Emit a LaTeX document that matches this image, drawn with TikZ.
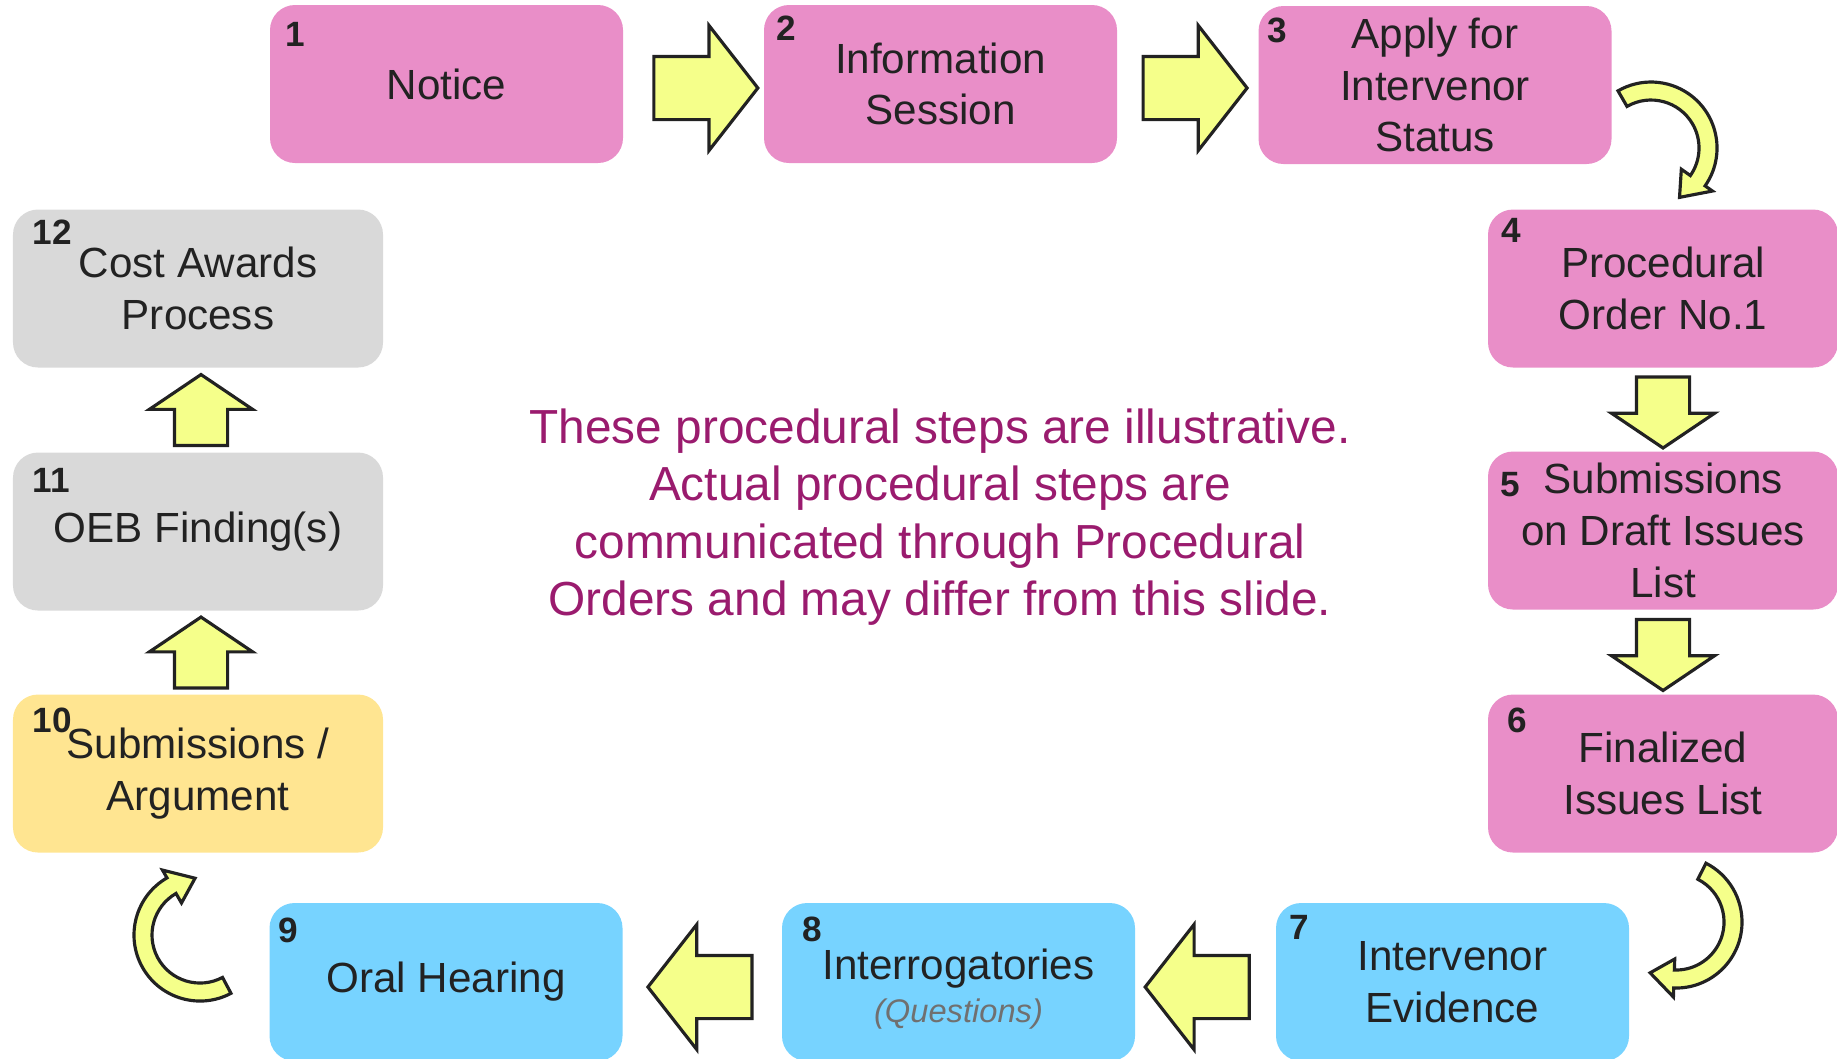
\documentclass[tikz,border=0pt]{standalone}
\usepackage{fontspec}
\setmainfont{Liberation Sans}
\usetikzlibrary{shapes.arrows,calc}

\definecolor{pinkbox}{HTML}{E98EC8}
\definecolor{greybox}{HTML}{D9D9D9}
\definecolor{yellowbox}{HTML}{FFE591}
\definecolor{bluebox}{HTML}{77D3FF}
\definecolor{arrowfill}{HTML}{F5FF8A}
\definecolor{notepurple}{HTML}{9A1B6E}
\definecolor{inkdark}{HTML}{222222}
\definecolor{qgrey}{HTML}{707070}

\tikzset{
  stepbox/.style={rectangle, rounded corners=0.25cm, minimum width=3.53cm, minimum height=1.58cm, inner sep=0pt, align=center, text=inkdark, font=\fontsize{12}{14.7}\selectfont},
  sidebox/.style={stepbox, minimum width=3.70cm},
  num/.style={anchor=north west, inner sep=0pt, text=inkdark, font=\fontsize{10}{12}\selectfont\bfseries},
  harrow/.style={single arrow, draw=inkdark, fill=arrowfill, line width=0.9pt, inner xsep=0pt, inner ysep=0.3cm, single arrow head extend=0.31cm, single arrow tip angle=104, minimum height=1.04cm},
  varrow/.style={single arrow, draw=inkdark, fill=arrowfill, line width=0.9pt, inner xsep=0pt, inner ysep=0.25cm, single arrow head extend=0.25cm, single arrow tip angle=112, minimum height=0.71cm},
  bentarrow/.style={draw=inkdark, fill=arrowfill, line width=0.9pt}
}

% curved block arrow: centre, start angle, end angle (clockwise)
\newcommand{\turnarrow}[3]{%
  \draw[bentarrow, shift={(#1)}] (#2:0.48) arc[start angle=#2, end angle=#3, radius=0.48]
    -- (#3:0.37) -- ({#3-25}:0.57) -- (#3:0.75) -- (#3:0.66)
    arc[start angle=#3, end angle=#2, radius=0.66] -- cycle;}

\begin{document}
\begin{tikzpicture}
\useasboundingbox (0,0) rectangle (18.37,-10.58);

% top row
\node[stepbox, fill=pinkbox] (notice) at (4.465,-0.84) {Notice};
\node[stepbox, fill=pinkbox] (info) at (9.405,-0.84) {Information\\Session};
\node[stepbox, fill=pinkbox] (apply) at (14.35,-0.85) {Apply for\\Intervenor\\Status};

% right column
\node[stepbox, fill=pinkbox, minimum width=3.5cm] (order) at (16.63,-2.885) {Procedural\\Order No.1};
\node[stepbox, fill=pinkbox, minimum width=3.5cm] (draft) at (16.63,-5.305) {Submissions\\on Draft Issues\\List};
\node[stepbox, fill=pinkbox, minimum width=3.5cm] (final) at (16.63,-7.735) {Finalized\\Issues List};

% bottom row
\node[stepbox, fill=bluebox] (evid) at (14.525,-9.82) {Intervenor\\Evidence};
\node[stepbox, fill=bluebox, font=\fontsize{12}{12.2}\selectfont] (interr) at (9.585,-9.82) {\rule{0pt}{12.5pt}Interrogatories\\{\fontsize{9.3}{12.2}\selectfont\itshape\color{qgrey}(Questions)}};
\node[stepbox, fill=bluebox] (hearing) at (4.46,-9.82) {Oral Hearing};

% left column
\node[sidebox, fill=yellowbox] (argue) at (1.98,-7.735) {Submissions /\\Argument};
\node[sidebox, fill=greybox] (finding) at (1.98,-5.315) {OEB Finding(s)};
\node[sidebox, fill=greybox] (costs) at (1.98,-2.885) {Cost Awards\\Process};

% step numbers
\node[num] (n1) at ($(notice.north west)+(0.15,-0.17)$) {1};
\node[num] (n2) at ($(info.north west)+(0.12,-0.11)$) {2};
\node[num] (n3) at ($(apply.north west)+(0.09,-0.12)$) {3};
\node[num] (n4) at ($(order.north west)+(0.13,-0.09)$) {4};
\node[num] (n5) at ($(draft.north west)+(0.12,-0.21)$) {5};
\node[num] (n6) at ($(final.north west)+(0.19,-0.13)$) {6};
\node[num] (n7) at ($(evid.north west)+(0.13,-0.12)$) {7};
\node[num] (n8) at ($(interr.north west)+(0.20,-0.14)$) {8};
\node[num] (n9) at ($(hearing.north west)+(0.09,-0.15)$) {9};
\node[num] (n10) at ($(argue.north west)+(0.20,-0.13)$) {10};
\node[num] (n11) at ($(finding.north west)+(0.20,-0.16)$) {11};
\node[num] (n12) at ($(costs.north west)+(0.20,-0.10)$) {12};

% straight block arrows
\node[harrow] (a12) at ($(notice.east)!0.5!(info.west)+(0,-0.04)$) {};
\node[harrow] (a23) at ($(info.east)!0.5!(apply.west)+(-0.05,-0.035)$) {};
\node[varrow, rotate=270] (a45) at ($(order.south)!0.5!(draft.north)+(0,0.06)$) {};
\node[varrow, rotate=270] (a56) at ($(draft.south)!0.5!(final.north)+(0,0.06)$) {};
\node[harrow, rotate=180] (a78) at ($(interr.east)!0.5!(evid.west)+(0.04,-0.05)$) {};
\node[harrow, rotate=180] (a89) at ($(hearing.east)!0.5!(interr.west)+(0.1,-0.05)$) {};
\node[varrow, rotate=90] (a1011) at ($(argue.north)!0.5!(finding.south)+(0.03,-0.09)$) {};
\node[varrow, rotate=90] (a1112) at ($(finding.north)!0.5!(costs.south)+(0.03,-0.09)$) {};

% curved block arrows
\coordinate (bendA) at (16.51,-1.48);
\coordinate (bendB) at (16.76,-9.22);
\coordinate (bendC) at (2.00,-9.35);
\turnarrow{bendA}{120}{-35}
\turnarrow{bendB}{63}{-92}
\turnarrow{bendC}{-62}{-240}

% note in the middle
\node[align=center, text=notepurple, font=\fontsize{13.6}{16.3}\selectfont] (note) at (9.40,-5.17) {These procedural steps are illustrative.\\Actual procedural steps are\\communicated through Procedural\\Orders and may differ from this slide.};
\end{tikzpicture}
\end{document}
